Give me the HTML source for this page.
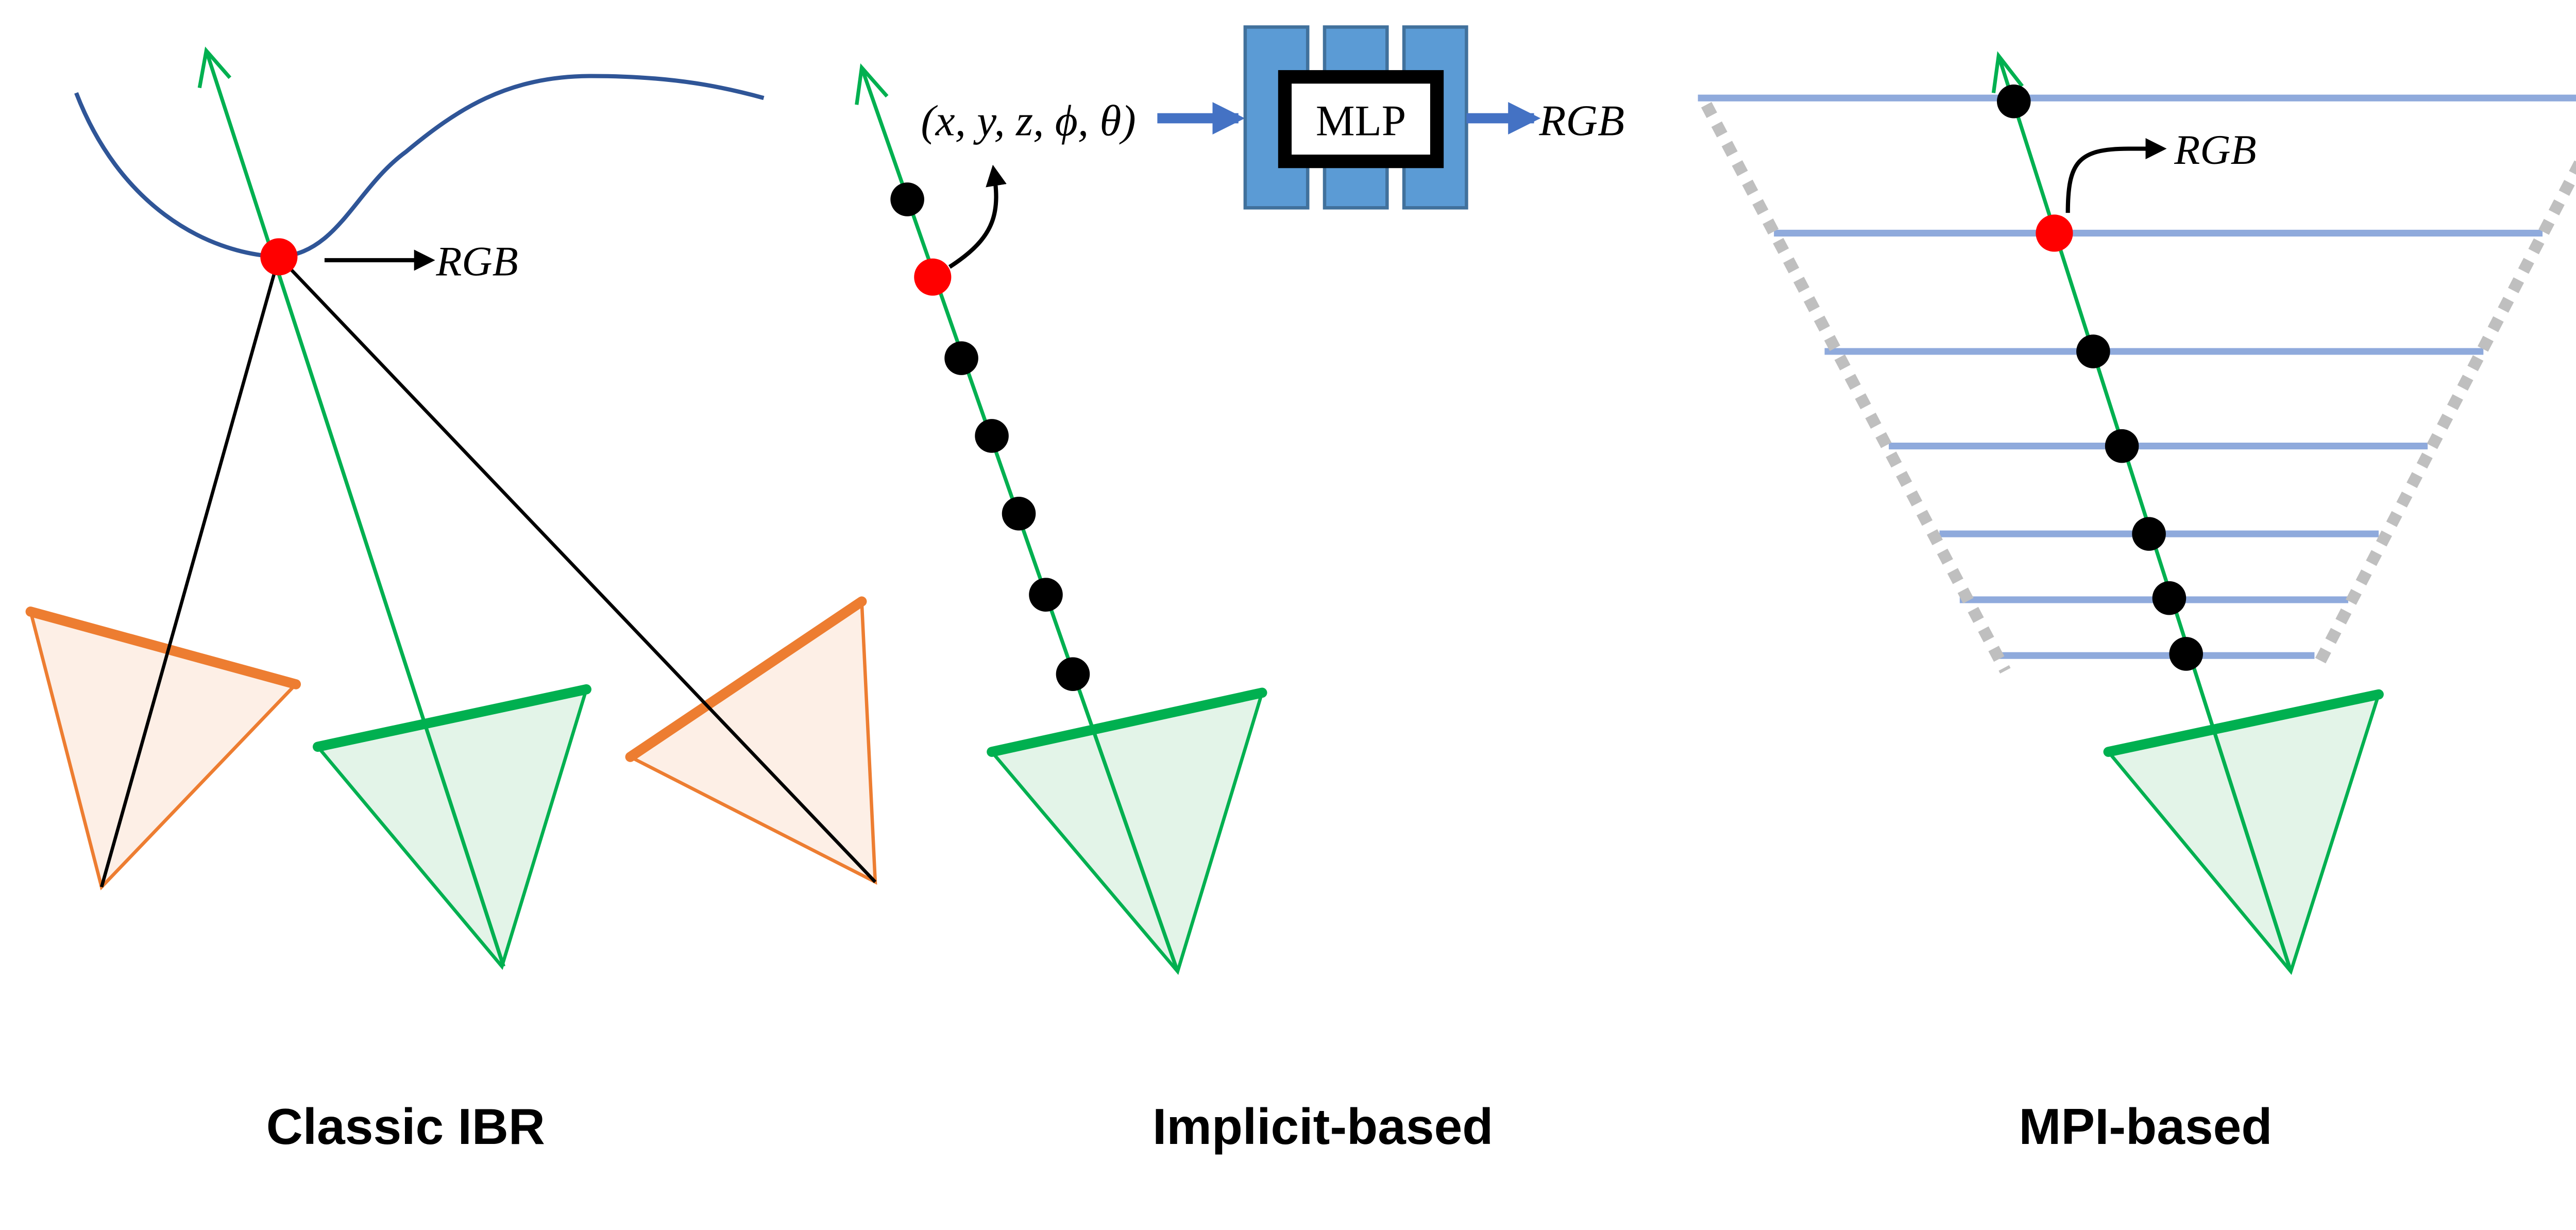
<!DOCTYPE html>
<html><head><meta charset="utf-8"><style>
html,body{margin:0;padding:0;background:#fff;}
svg{display:block;}
text{font-family:"Liberation Serif",serif;}
.lab{font-family:"Liberation Sans",sans-serif;font-weight:bold;font-size:30px;}
</style></head><body>
<svg width="5142" height="2387" viewBox="0 0 1568 728" xmlns="http://www.w3.org/2000/svg">
<defs>
<marker id="ah" viewBox="0 0 10 10" refX="8" refY="5" markerWidth="5" markerHeight="5" orient="auto"><path d="M0,0 L10,5 L0,10 z" fill="#000"/></marker>
<marker id="bh" viewBox="0 0 10 10" refX="8" refY="5" markerWidth="3.2" markerHeight="3.2" orient="auto"><path d="M0,0 L10,5 L0,10 z" fill="#4472c4"/></marker>
</defs>

<!-- Panel 1: Classic IBR -->
<g>
<path d="M45,55 C70,120 120,150 165,152 C200,150 210,112 240,90 C270,65 300,45 350,45 C400,45 430,52 452,58" fill="none" stroke="#2f5597" stroke-width="2.5"/>
<polygon points="18,362 175,405 60,525" fill="#fdefe6" stroke="#ed7d31" stroke-width="2"/>
<line x1="18" y1="362" x2="175" y2="405" stroke="#ed7d31" stroke-width="6" stroke-linecap="round"/>
<polygon points="373,448 510,356 518,522" fill="#fdefe6" stroke="#ed7d31" stroke-width="2"/>
<line x1="373" y1="448" x2="510" y2="356" stroke="#ed7d31" stroke-width="6" stroke-linecap="round"/>
<polygon points="188,442 347,408 297,572" fill="#e3f4e8" stroke="#00b050" stroke-width="2"/>
<line x1="188" y1="442" x2="347" y2="408" stroke="#00b050" stroke-width="6" stroke-linecap="round"/>
<line x1="165" y1="152" x2="60" y2="525" stroke="#000" stroke-width="2"/>
<line x1="165" y1="152" x2="518" y2="522" stroke="#000" stroke-width="2"/>
<line x1="298" y1="572" x2="122" y2="30" stroke="#00b050" stroke-width="2.2"/>
<polyline points="118,52 122,30 136,46" fill="none" stroke="#00b050" stroke-width="2.2"/>
<circle cx="165" cy="152" r="11" fill="#ff0000"/>
<line x1="192" y1="154" x2="255" y2="154" stroke="#000" stroke-width="2.5" marker-end="url(#ah)"/>
<text x="258" y="163" font-size="25" font-style="italic">RGB</text>
<text class="lab" x="240" y="677" text-anchor="middle">Classic IBR</text>
</g>

<!-- Panel 2: Implicit-based -->
<g>
<polygon points="587,445 747,410 697,575" fill="#e3f4e8" stroke="#00b050" stroke-width="2"/>
<line x1="587" y1="445" x2="747" y2="410" stroke="#00b050" stroke-width="6" stroke-linecap="round"/>
<line x1="697" y1="575" x2="510" y2="40" stroke="#00b050" stroke-width="2.2"/>
<polyline points="507,62 510,40 525,57" fill="none" stroke="#00b050" stroke-width="2.2"/>
<g>
<circle cx="537" cy="118" r="10"/><circle cx="569" cy="212" r="10"/><circle cx="587" cy="258" r="10"/><circle cx="603" cy="304" r="10"/><circle cx="619" cy="352" r="10"/><circle cx="635" cy="399" r="10"/>
</g>
<circle cx="552" cy="164" r="11" fill="#ff0000"/>
<path d="M562,158 C590,140 592,125 588,100" fill="none" stroke="#000" stroke-width="2.5" marker-end="url(#ah)"/>
<text x="545" y="80" font-size="26" font-style="italic">(x, y, z, ϕ, θ)</text>
<line x1="685" y1="70" x2="733" y2="70" stroke="#4472c4" stroke-width="6" marker-end="url(#bh)"/>
<g>
<rect x="737" y="16" width="37" height="107" fill="#5b9bd5" stroke="#41719c" stroke-width="2"/>
<rect x="784" y="16" width="37" height="107" fill="#5b9bd5" stroke="#41719c" stroke-width="2"/>
<rect x="831" y="16" width="37" height="107" fill="#5b9bd5" stroke="#41719c" stroke-width="2"/>
<rect x="760.5" y="45.5" width="90" height="50" fill="#fff" stroke="#000" stroke-width="8"/>
<text x="805.5" y="80" font-size="26" text-anchor="middle">MLP</text>
</g>
<line x1="868" y1="70" x2="908" y2="70" stroke="#4472c4" stroke-width="6" marker-end="url(#bh)"/>
<text x="911" y="80" font-size="26" font-style="italic">RGB</text>
<text class="lab" x="783" y="677" text-anchor="middle">Implicit-based</text>
</g>

<!-- Panel 3: MPI-based -->
<g>
<g stroke="#8faadc" stroke-width="4">
<line x1="1005" y1="58" x2="1548" y2="58"/>
<line x1="1050" y1="138" x2="1505" y2="138"/>
<line x1="1080" y1="208" x2="1470" y2="208"/>
<line x1="1118" y1="264" x2="1437" y2="264"/>
<line x1="1148" y1="316" x2="1408" y2="316"/>
<line x1="1160" y1="355" x2="1390" y2="355"/>
<line x1="1182" y1="388" x2="1370" y2="388"/>
</g>
<line x1="1010" y1="62" x2="1187" y2="397" stroke="#bfbfbf" stroke-width="7" stroke-dasharray="7 6"/>
<line x1="1545" y1="62" x2="1373" y2="392" stroke="#bfbfbf" stroke-width="7" stroke-dasharray="7 6"/>
<polygon points="1248,445 1408,411 1356,575" fill="#e3f4e8" stroke="#00b050" stroke-width="2"/>
<line x1="1248" y1="445" x2="1408" y2="411" stroke="#00b050" stroke-width="6" stroke-linecap="round"/>
<line x1="1356" y1="575" x2="1183" y2="33" stroke="#00b050" stroke-width="2.2"/>
<polyline points="1180,55 1183,33 1197,51" fill="none" stroke="#00b050" stroke-width="2.2"/>
<g>
<circle cx="1192" cy="60" r="10"/><circle cx="1239" cy="208" r="10"/><circle cx="1256" cy="264" r="10"/><circle cx="1272" cy="316" r="10"/><circle cx="1284" cy="354" r="10"/><circle cx="1294" cy="387" r="10"/>
</g>
<circle cx="1216" cy="138" r="11" fill="#ff0000"/>
<path d="M1224,126 C1224,96 1230,88 1260,88 L1280,88" fill="none" stroke="#000" stroke-width="2.5" marker-end="url(#ah)"/>
<text x="1287" y="97" font-size="25" font-style="italic">RGB</text>
<text class="lab" x="1270" y="677" text-anchor="middle">MPI-based</text>
</g>
</svg>
</body></html>
